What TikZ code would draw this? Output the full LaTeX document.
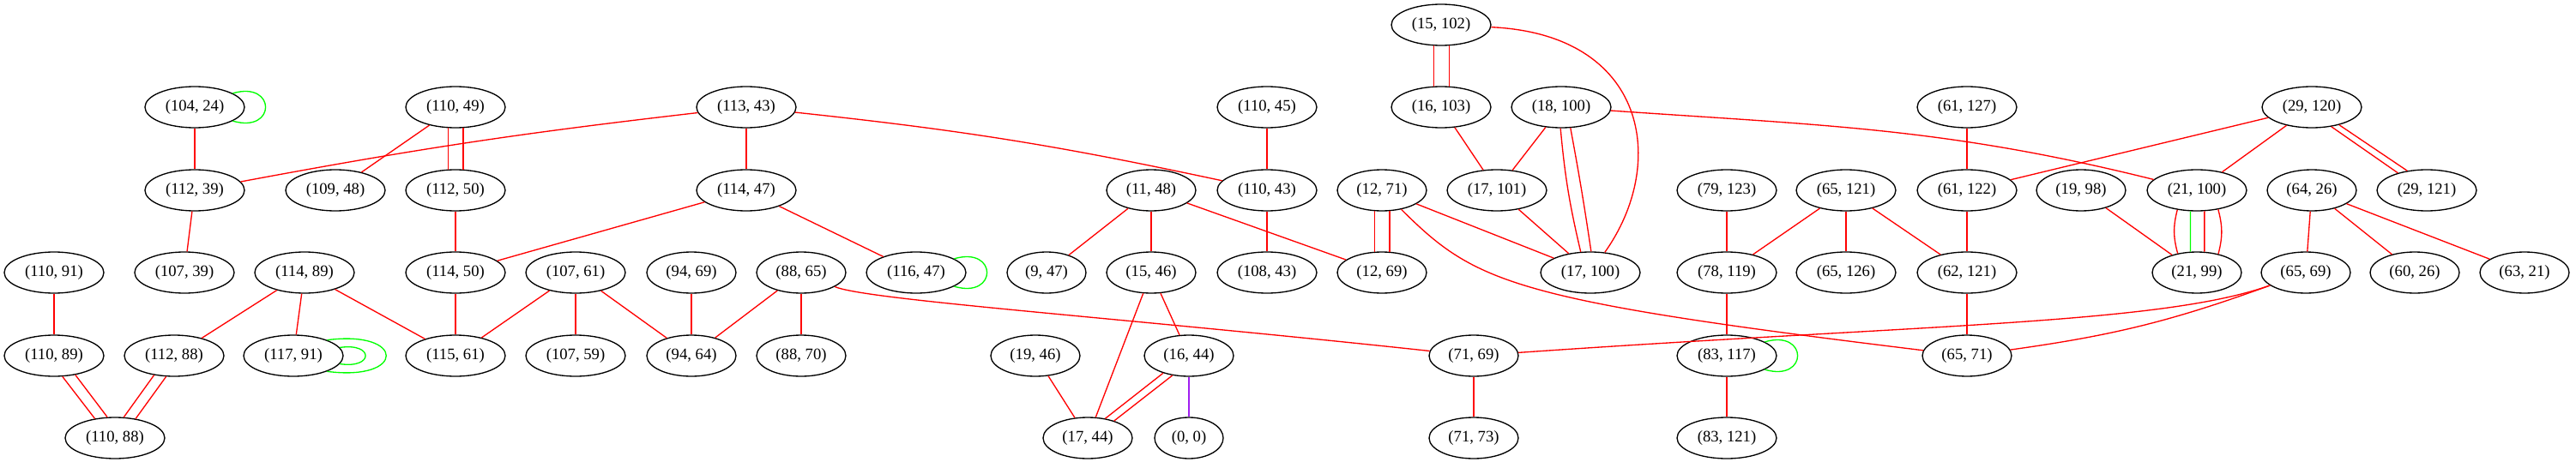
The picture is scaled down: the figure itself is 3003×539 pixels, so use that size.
\documentclass[tikz,border=0pt]{standalone}
\usepackage{fontspec}
\setmainfont{Liberation Serif}
\usetikzlibrary{shapes.geometric}
\definecolor{gvred}{RGB}{255,0,0}
\definecolor{gvgreen}{RGB}{0,255,0}
\definecolor{gvpurple}{RGB}{160,32,240}
\begin{document}
\begin{tikzpicture}[x=0.75pt,y=-0.75pt,
  nd/.style={ellipse,draw=black,line width=1pt,inner sep=0pt,minimum height=36pt,font=\fontsize{14}{16}\selectfont},
  w9/.style={nd,minimum width=87pt},
  w8/.style={nd,minimum width=78pt},
  w7/.style={nd,minimum width=69pt},
  w6/.style={nd,minimum width=60pt},
  re/.style={draw=gvred,line width=1pt},
  ge/.style={draw=gvgreen,line width=1pt},
  pe/.style={draw=gvpurple,line width=1pt}]
\useasboundingbox (0,0) rectangle (3003,539);
% row 0/1
\node[w9] (n15x102) at (1680,29) {(15, 102)};
\node[w9] (n104x24) at (227,125) {(104, 24)};
\node[w9] (n110x49) at (531,125) {(110, 49)};
\node[w9] (n113x43) at (870,125) {(113, 43)};
\node[w9] (n110x45) at (1477,125) {(110, 45)};
\node[w9] (n16x103) at (1680,125) {(16, 103)};
\node[w9] (n18x100) at (1820,125) {(18, 100)};
\node[w9] (n61x127) at (2293,125) {(61, 127)};
\node[w9] (n29x120) at (2695,125) {(29, 120)};
% row 2
\node[w9] (n112x39) at (227,222) {(112, 39)};
\node[w9] (n109x48) at (391,222) {(109, 48)};
\node[w9] (n112x50) at (531,222) {(112, 50)};
\node[w9] (n114x47) at (870,222) {(114, 47)};
\node[w8] (n11x48) at (1342,222) {(11, 48)};
\node[w9] (n110x43) at (1477,222) {(110, 43)};
\node[w8] (n12x71) at (1611,222) {(12, 71)};
\node[w9] (n17x101) at (1745,222) {(17, 101)};
\node[w9] (n79x123) at (2013,222) {(79, 123)};
\node[w9] (n65x121) at (2152,222) {(65, 121)};
\node[w9] (n61x122) at (2293,222) {(61, 122)};
\node[w8] (n19x98) at (2426,222) {(19, 98)};
\node[w9] (n21x100) at (2561,222) {(21, 100)};
\node[w8] (n64x26) at (2695,222) {(64, 26)};
\node[w9] (n29x121) at (2829,222) {(29, 121)};
% row 3
\node[w9] (n110x91) at (63,318) {(110, 91)};
\node[w9] (n107x39) at (215,318) {(107, 39)};
\node[w9] (n114x89) at (355,318) {(114, 89)};
\node[w9] (n114x50) at (531,318) {(114, 50)};
\node[w9] (n107x61) at (671,318) {(107, 61)};
\node[w8] (n94x69) at (806,318) {(94, 69)};
\node[w8] (n88x65) at (934,318) {(88, 65)};
\node[w9] (n116x47) at (1068,318) {(116, 47)};
\node[w7] (n9x47) at (1220,318) {(9, 47)};
\node[w8] (n15x46) at (1342,318) {(15, 46)};
\node[w9] (n108x43) at (1477,318) {(108, 43)};
\node[w8] (n12x69) at (1611,318) {(12, 69)};
\node[w9] (n17x100) at (1854,318) {(17, 100)};
\node[w9] (n78x119) at (2013,318) {(78, 119)};
\node[w9] (n65x126) at (2152,318) {(65, 126)};
\node[w9] (n62x121) at (2293,318) {(62, 121)};
\node[w8] (n21x99) at (2561,318) {(21, 99)};
\node[w8] (n65x69) at (2688,318) {(65, 69)};
\node[w8] (n60x26) at (2815,318) {(60, 26)};
\node[w8] (n63x21) at (2943,318) {(63, 21)};
% row 4
\node[w9] (n110x89) at (63,415) {(110, 89)};
\node[w9] (n112x88) at (203,415) {(112, 88)};
\node[w9] (n117x91) at (342,415) {(117, 91)};
\node[w9] (n115x61) at (531,415) {(115, 61)};
\node[w9] (n107x59) at (671,415) {(107, 59)};
\node[w8] (n94x64) at (806,415) {(94, 64)};
\node[w8] (n88x70) at (934,415) {(88, 70)};
\node[w8] (n19x46) at (1207,415) {(19, 46)};
\node[w8] (n16x44) at (1386,415) {(16, 44)};
\node[w8] (n71x69) at (1718,415) {(71, 69)};
\node[w9] (n83x117) at (2013,415) {(83, 117)};
\node[w8] (n65x71) at (2293,415) {(65, 71)};
% row 5
\node[w9] (n110x88) at (134,511) {(110, 88)};
\node[w8] (n17x44) at (1268,511) {(17, 44)};
\node[w6] (n0x0) at (1386,511) {(0, 0)};
\node[w8] (n71x73) at (1718,511) {(71, 73)};
\node[w9] (n83x121) at (2013,511) {(83, 121)};

% self loops
\draw[ge] (n104x24.20) .. controls +(51,-15) and +(51,15) .. (n104x24.-20);
\draw[ge] (n116x47.20) .. controls +(51,-15) and +(51,15) .. (n116x47.-20);
\draw[ge] (n83x117.20) .. controls +(51,-15) and +(51,15) .. (n83x117.-20);
\draw[ge] (n117x91.10) .. controls +(40,-6) and +(40,6) .. (n117x91.-10);
\draw[ge] (n117x91.25) .. controls +(92,-12) and +(92,12) .. (n117x91.-25);

% straight single edges
\draw[re] (n104x24) -- (n112x39);
\draw[re] (n113x43) -- (n114x47);
\draw[re] (n110x49) -- (n109x48);
\draw[re] (n112x39) -- (n107x39);
\draw[re] (n112x50) -- (n114x50);
\draw[re] (n114x47) -- (n114x50);
\draw[re] (n114x47) -- (n116x47);
\draw[re] (n110x91) -- (n110x89);
\draw[re] (n114x89) -- (n112x88);
\draw[re] (n114x89) -- (n117x91);
\draw[re] (n114x89) -- (n115x61);
\draw[re] (n114x50) -- (n115x61);
\draw[re] (n107x61) -- (n115x61);
\draw[re] (n107x61) -- (n107x59);
\draw[re] (n107x61) -- (n94x64);
\draw[re] (n94x69) -- (n94x64);
\draw[re] (n88x65) -- (n94x64);
\draw[re] (n88x65) -- (n88x70);
\draw[re] (n110x45) -- (n110x43);
\draw[re] (n110x43) -- (n108x43);
\draw[re] (n11x48) -- (n9x47);
\draw[re] (n11x48) -- (n15x46);
\draw[re] (n11x48) -- (n12x69);
\draw[re] (n15x46) -- (n17x44);
\draw[re] (n15x46) -- (n16x44);
\draw[pe] (n16x44) -- (n0x0);
\draw[re] (n19x46) -- (n17x44);
\draw[re] (n16x103) -- (n17x101);
\draw[re] (n18x100) -- (n17x101);
\draw[re] (n12x71) -- (n17x100);
\draw[re] (n17x101) -- (n17x100);
\draw[re] (n79x123) -- (n78x119);
\draw[re] (n65x121) -- (n78x119);
\draw[re] (n65x121) -- (n65x126);
\draw[re] (n65x121) -- (n62x121);
\draw[re] (n78x119) -- (n83x117);
\draw[re] (n83x117) -- (n83x121);
\draw[re] (n71x69) -- (n71x73);
\draw[re] (n61x127) -- (n61x122);
\draw[re] (n29x120) -- (n61x122);
\draw[re] (n29x120) -- (n21x100);
\draw[re] (n61x122) -- (n62x121);
\draw[re] (n62x121) -- (n65x71);
\draw[re] (n19x98) -- (n21x99);
\draw[re] (n64x26) -- (n65x69);
\draw[re] (n64x26) -- (n60x26);
\draw[re] (n64x26) -- (n63x21);

% curved single edges
\draw[re] (n113x43) to[bend right=2] (n112x39);
\draw[re] (n113x43) to[bend left=3] (n110x43);
\draw[re] (n88x65) .. controls (1010,350) and (1300,370) .. (n71x69);
\draw[re] (n15x102) .. controls (1920,40) and (1945,190) .. (n17x100);
\draw[re] (n18x100) to[out=-4,in=166] (n21x100);
\draw[re] (n12x71) .. controls (1720,330) and (1760,350) .. (n65x71);
\draw[re] (n65x69) .. controls (2520,378) and (2250,378) .. (n71x69);
\draw[re] (n65x69) to[bend left=6] (n65x71);

% multi edges
\draw[re] (n110x49.-109) -- (n112x50.109);
\draw[re] (n110x49.-70) -- (n112x50.70);
\draw[re] (n15x102.-109) -- (n16x103.109);
\draw[re] (n15x102.-69) -- (n16x103.69);
\draw[re] (n18x100.-92) to[bend right=4] (n17x100.115);
\draw[re] (n18x100.-66) to[bend left=1] (n17x100.88);
\draw[re] (n12x71.-109) -- (n12x69.109);
\draw[re] (n12x71.-70) -- (n12x69.70);
\draw[re] (n110x89.-68) -- (n110x88.136);
\draw[re] (n110x89.-42) -- (n110x88.110);
\draw[re] (n112x88.-136) -- (n110x88.67);
\draw[re] (n112x88.-111) -- (n110x88.43);
\draw[re] (n16x44.214) -- (n17x44.48);
\draw[re] (n16x44.230) -- (n17x44.33);
\draw[re] (n29x120.-45) -- (n29x121.149);
\draw[re] (n29x120.-33) -- (n29x121.135);
\draw[re] (n21x100.-135) to[bend right=15] (n21x99.135);
\draw[ge] (n21x100.-107) -- (n21x99.107);
\draw[re] (n21x100.-70) -- (n21x99.70);
\draw[re] (n21x100.-42) to[bend left=15] (n21x99.41);
\end{tikzpicture}
\end{document}
